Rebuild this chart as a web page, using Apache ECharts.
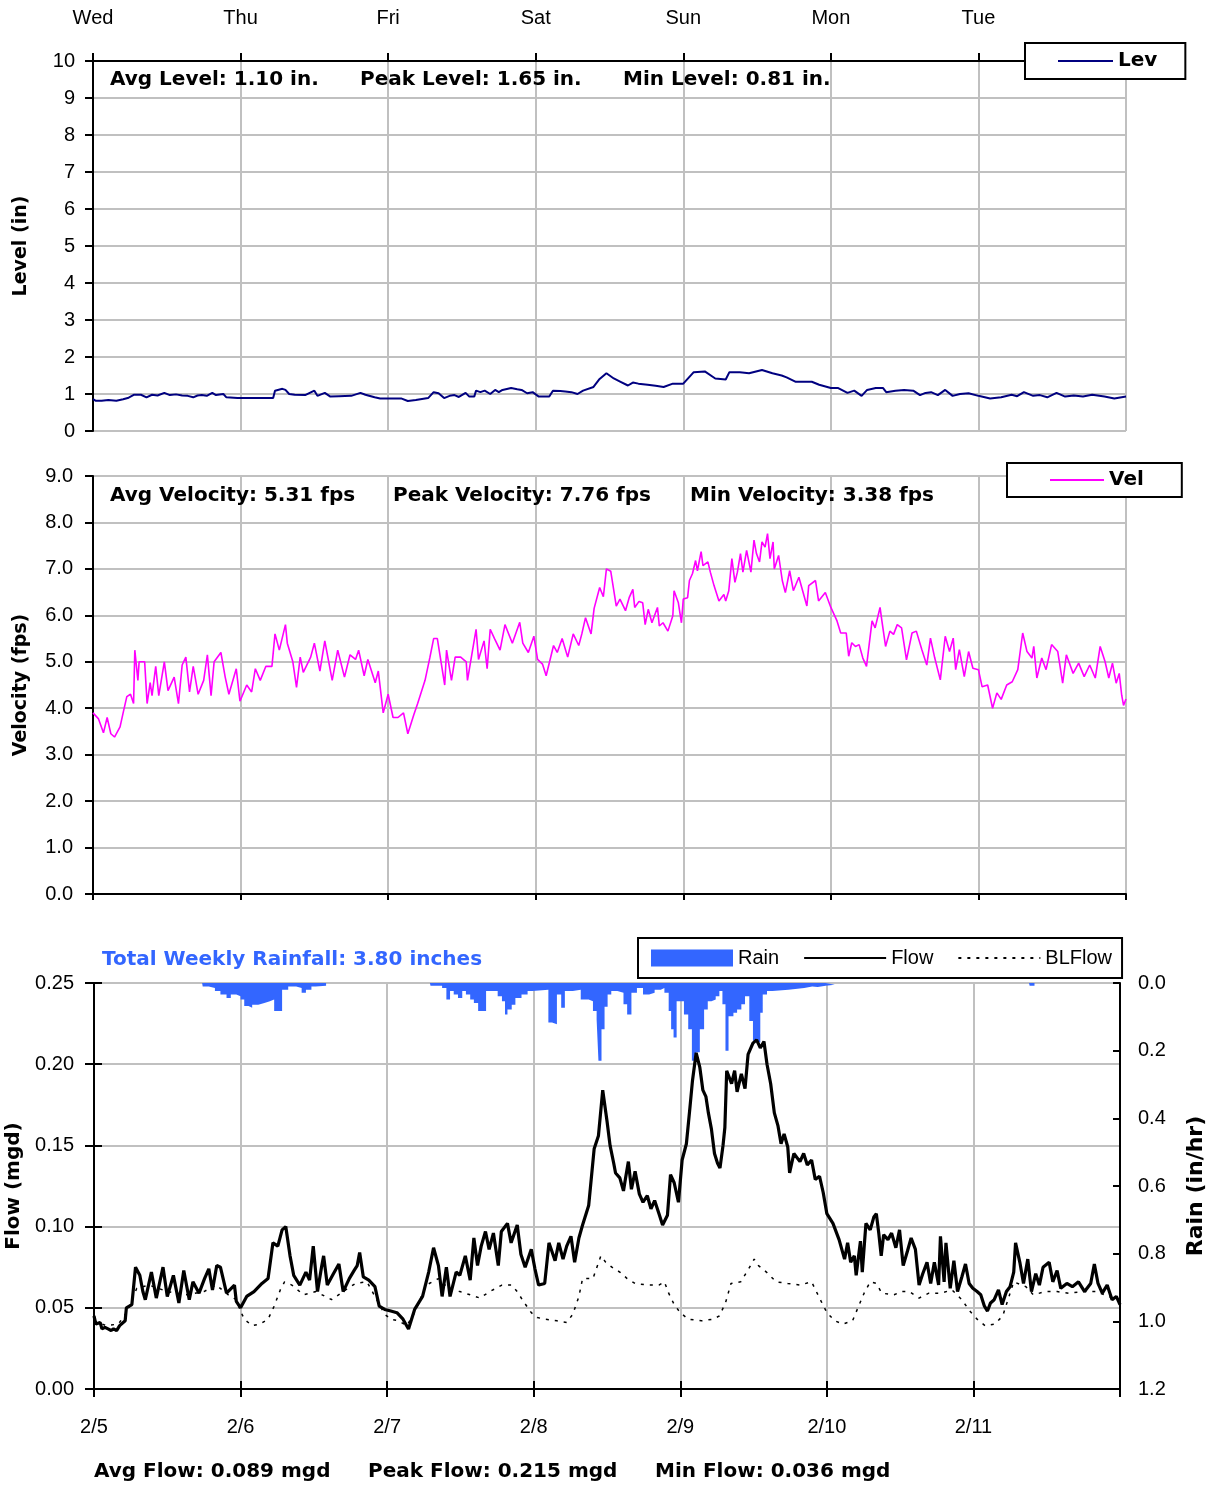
<!DOCTYPE html>
<html><head><meta charset="utf-8">
<script src="https://cdn.jsdelivr.net/npm/echarts@6/dist/echarts.min.js"></script>
<style>html,body{margin:0;padding:0;background:#fff}#c{width:1213px;height:1486px}</style>
</head><body><div id="c"></div>
<script>
// ---- DATA (x = hours since Wed 2/5 00:00) ----
const dayLabels = ['Wed','Thu','Fri','Sat','Sun','Mon','Tue'];
const dateLabels = ['2/5','2/6','2/7','2/8','2/9','2/10','2/11'];
const levelStats = ['Avg Level: 1.10 in.','Peak Level: 1.65 in.','Min Level: 0.81 in.'];
const velocityStats = ['Avg Velocity: 5.31 fps','Peak Velocity: 7.76 fps','Min Velocity: 3.38 fps'];
const flowStats = ['Avg Flow: 0.089 mgd','Peak Flow: 0.215 mgd','Min Flow: 0.036 mgd'];
const rainTotal = 'Total Weekly Rainfall: 3.80 inches';

const level = [[0,0.86],[0.4,0.82],[1.4,0.82],[2.5,0.84],[3.8,0.82],[4.9,0.86],[5.8,0.9],[6.7,0.98],[7.8,0.98],[8.7,0.91],[9.6,0.98],[10.5,0.96],[11.6,1.03],[12.5,0.97],[13.5,0.99],[14.5,0.96],[15.4,0.95],[16.3,0.91],[17.0,0.96],[17.7,0.97],[18.5,0.95],[19.4,1.03],[20.0,0.97],[21.2,1.0],[21.7,0.91],[23.5,0.89],[25.5,0.89],[27.5,0.89],[29.3,0.89],[29.6,1.09],[30.8,1.14],[31.3,1.11],[31.9,1.0],[32.8,0.98],[34.5,0.97],[36.0,1.09],[36.5,0.95],[37.7,1.03],[38.6,0.93],[40.0,0.94],[42.0,0.95],[43.5,1.03],[44.3,0.98],[45.8,0.91],[46.7,0.88],[50.1,0.88],[51.2,0.81],[52.5,0.84],[54.5,0.89],[55.4,1.05],[56.2,1.02],[57.1,0.89],[58.0,0.95],[58.8,0.97],[59.5,0.92],[60.6,1.03],[61.2,0.93],[62.0,0.93],[62.3,1.09],[63.0,1.05],[63.7,1.09],[64.6,1.0],[65.4,1.11],[66.0,1.05],[66.6,1.11],[68.0,1.16],[69.0,1.13],[69.7,1.11],[70.6,1.02],[71.5,1.05],[72.5,0.93],[74.2,0.93],[74.8,1.09],[76.0,1.08],[76.8,1.07],[77.8,1.05],[78.8,1.0],[79.7,1.09],[81.4,1.19],[82.3,1.39],[83.5,1.56],[84.7,1.42],[85.8,1.33],[87.0,1.23],[87.8,1.31],[88.7,1.28],[90.2,1.25],[91.5,1.22],[92.8,1.19],[94.3,1.28],[96.0,1.28],[97.7,1.59],[99.5,1.61],[101.2,1.42],[102.9,1.39],[103.5,1.59],[105.2,1.59],[106.7,1.56],[108.8,1.65],[110.5,1.56],[112.0,1.5],[112.8,1.45],[114.3,1.33],[116.9,1.33],[118.1,1.25],[120.0,1.16],[121.2,1.16],[122.7,1.03],[123.8,1.09],[125.0,0.95],[125.9,1.11],[127.3,1.16],[128.5,1.16],[129.0,1.05],[130.5,1.09],[131.9,1.11],[133.4,1.09],[134.5,0.97],[135.4,1.03],[136.3,1.05],[137.4,0.97],[138.6,1.11],[139.8,0.95],[141.0,1.0],[142.4,1.02],[144.0,0.95],[145.9,0.88],[147.7,0.91],[149.4,0.98],[150.3,0.94],[151.4,1.05],[152.9,0.95],[154.0,0.97],[155.2,0.91],[156.7,1.03],[158.1,0.93],[159.5,0.96],[161.0,0.93],[162.5,0.98],[164.5,0.93],[166.1,0.88],[168.0,0.93]];

const velocity = [[0,3.9],[0.9,3.77],[1.7,3.47],[2.3,3.8],[2.9,3.45],[3.5,3.38],[4.4,3.6],[4.9,3.9],[5.5,4.25],[6.1,4.3],[6.6,4.1],[6.8,5.25],[7.3,4.6],[7.5,5.0],[8.4,5.0],[8.8,4.1],[9.3,4.55],[9.6,4.27],[10.2,4.9],[10.7,4.27],[11.6,5.0],[12.2,4.38],[13.2,4.67],[13.9,4.1],[14.5,4.93],[15.1,5.1],[15.7,4.35],[16.3,4.9],[17.1,4.3],[18.0,4.6],[18.6,5.15],[19.2,4.27],[19.7,5.0],[20.8,5.2],[21.5,4.67],[22.1,4.3],[23.3,4.85],[23.9,4.15],[25.0,4.5],[25.8,4.35],[26.4,4.85],[27.2,4.6],[28.1,4.9],[29.1,4.9],[29.6,5.6],[30.3,5.25],[31.3,5.8],[31.6,5.4],[32.5,5.0],[33.1,4.45],[33.7,5.1],[34.2,4.77],[35.4,5.1],[36.0,5.4],[36.9,4.8],[37.7,5.45],[38.9,4.6],[39.8,5.25],[40.9,4.67],[41.8,5.15],[42.7,5.05],[43.2,5.25],[44.1,4.7],[44.7,5.05],[45.9,4.55],[46.4,4.8],[47.2,3.9],[48.0,4.3],[48.8,3.8],[49.6,3.8],[50.5,3.9],[51.2,3.45],[52.2,3.87],[52.8,4.1],[54.0,4.6],[54.8,5.1],[55.4,5.5],[56.0,5.5],[57.2,4.5],[57.5,5.25],[58.3,4.6],[58.9,5.1],[59.8,5.1],[60.7,5.0],[60.9,4.6],[62.3,5.7],[62.7,5.05],[63.6,5.45],[64.1,4.85],[64.6,5.7],[65.3,5.5],[66.2,5.25],[67.0,5.8],[68.2,5.4],[69.4,5.85],[69.9,5.4],[70.8,5.2],[71.7,5.55],[72.3,5.05],[73.1,4.95],[73.7,4.7],[74.9,5.35],[75.5,5.2],[76.3,5.5],[77.2,5.1],[78.1,5.6],[79.0,5.35],[79.5,5.6],[80.1,5.95],[81.0,5.6],[81.5,6.15],[82.4,6.6],[83.0,6.4],[83.5,7.0],[84.2,6.95],[85.1,6.2],[85.7,6.35],[86.6,6.1],[87.2,6.38],[87.8,6.56],[88.1,6.17],[88.8,6.3],[89.4,6.27],[89.8,5.8],[90.3,6.13],[90.9,5.84],[91.8,6.17],[92.1,5.77],[92.7,5.84],[93.5,5.66],[94.3,5.99],[94.5,6.53],[95.2,6.27],[95.7,5.84],[96.0,6.35],[96.7,6.38],[97.0,6.75],[97.5,6.9],[98.0,7.18],[98.3,6.96],[98.9,7.37],[99.2,7.07],[100.0,7.15],[100.4,6.93],[101.0,6.64],[101.8,6.31],[102.6,6.45],[102.9,6.31],[103.4,6.53],[103.9,7.22],[104.4,6.71],[104.8,6.93],[105.3,7.33],[105.7,6.93],[106.3,7.4],[107.0,6.93],[107.5,7.62],[107.9,7.33],[108.4,7.15],[108.8,7.58],[109.3,7.47],[109.7,7.76],[110.1,7.22],[110.6,7.58],[110.8,7.0],[111.5,7.29],[112.1,6.75],[112.6,6.49],[113.3,6.96],[113.9,6.53],[114.8,6.82],[116.1,6.2],[116.4,6.64],[117.5,6.75],[118.0,6.31],[119.1,6.49],[120.0,6.17],[121.0,5.88],[121.6,5.62],[122.5,5.62],[122.9,5.12],[123.4,5.41],[124.0,5.33],[124.6,5.37],[125.2,5.08],[125.8,4.9],[126.7,5.88],[127.2,5.73],[128.0,6.17],[128.3,5.88],[128.9,5.33],[129.6,5.66],[130.2,5.59],[130.8,5.8],[131.5,5.73],[132.3,5.04],[133.2,5.62],[133.9,5.66],[134.8,5.26],[135.6,4.93],[136.2,5.51],[136.9,5.08],[137.8,4.61],[138.6,5.55],[139.3,5.22],[139.9,5.51],[140.3,4.83],[140.9,5.26],[141.7,4.68],[142.4,5.22],[143.1,4.86],[144.0,4.83],[144.6,4.46],[145.5,4.5],[146.3,4.0],[147.0,4.33],[147.7,4.19],[148.6,4.5],[149.5,4.57],[150.4,4.83],[151.2,5.62],[151.9,5.22],[152.7,5.08],[153.0,5.33],[153.5,4.65],[154.3,5.08],[155.0,4.83],[155.9,5.37],[156.9,5.22],[157.7,4.54],[158.3,5.15],[159.4,4.75],[160.3,4.97],[161.2,4.68],[162.1,4.93],[163.0,4.65],[163.8,5.33],[164.6,5.0],[165.2,4.65],[165.8,4.97],[166.4,4.54],[166.9,4.75],[167.3,4.28],[167.6,4.06],[168.0,4.2]];

const flow = [[0,0.045],[0.3,0.040],[0.6,0.039],[1.0,0.041],[1.3,0.037],[1.8,0.038],[2.3,0.037],[2.8,0.036],[3.2,0.037],[3.7,0.036],[4.2,0.039],[5.1,0.042],[5.3,0.05],[6.2,0.052],[6.8,0.075],[7.5,0.07],[8.0,0.06],[8.4,0.055],[9.4,0.072],[10.2,0.056],[11.3,0.075],[12.0,0.057],[13.0,0.07],[13.9,0.053],[14.7,0.073],[15.6,0.055],[16.2,0.066],[17.2,0.059],[18.1,0.068],[18.8,0.074],[19.4,0.061],[20.1,0.076],[20.7,0.075],[21.7,0.059],[23.0,0.064],[23.3,0.054],[24.0,0.05],[25.0,0.057],[26.2,0.06],[27.5,0.065],[28.5,0.068],[29.3,0.09],[30.1,0.088],[30.8,0.098],[31.4,0.1],[32.1,0.082],[32.7,0.07],[33.7,0.064],[34.7,0.072],[35.3,0.067],[35.9,0.088],[36.6,0.06],[37.3,0.076],[37.6,0.082],[38.2,0.064],[39.2,0.071],[40.1,0.077],[40.8,0.06],[41.8,0.068],[42.6,0.073],[43.1,0.076],[43.5,0.084],[44.1,0.069],[45.0,0.067],[46.0,0.063],[46.7,0.051],[47.6,0.049],[48.6,0.048],[49.6,0.047],[50.6,0.043],[51.5,0.037],[52.5,0.049],[53.8,0.057],[54.8,0.072],[55.6,0.087],[56.4,0.076],[57.0,0.057],[57.7,0.075],[58.3,0.057],[59.3,0.072],[59.9,0.07],[60.8,0.082],[61.6,0.067],[62.2,0.093],[62.8,0.076],[63.4,0.088],[64.1,0.097],[64.7,0.086],[65.4,0.096],[66.2,0.076],[66.7,0.097],[67.7,0.102],[68.3,0.09],[69.3,0.101],[69.9,0.083],[70.6,0.075],[71.6,0.086],[72.2,0.074],[72.8,0.064],[73.8,0.065],[74.5,0.09],[75.5,0.079],[76.1,0.09],[76.8,0.08],[77.4,0.088],[78.1,0.094],[78.7,0.078],[79.4,0.093],[80.0,0.101],[81.0,0.113],[81.9,0.148],[82.6,0.156],[83.3,0.184],[84.0,0.165],[84.5,0.15],[85.1,0.139],[85.4,0.133],[86.1,0.13],[86.7,0.122],[87.0,0.129],[87.5,0.14],[88.0,0.123],[88.6,0.134],[89.3,0.12],[89.9,0.115],[90.6,0.119],[91.2,0.111],[91.8,0.116],[92.5,0.108],[93.1,0.101],[93.9,0.107],[94.4,0.132],[95.0,0.127],[95.7,0.115],[96.3,0.141],[97.0,0.151],[97.6,0.174],[98.0,0.19],[98.6,0.207],[99.2,0.198],[99.7,0.184],[100.2,0.18],[100.6,0.17],[101.1,0.16],[101.6,0.145],[102.1,0.139],[102.5,0.136],[103.0,0.15],[103.3,0.161],[103.6,0.196],[104.4,0.188],[104.9,0.196],[105.3,0.183],[106.0,0.194],[106.6,0.185],[107.1,0.206],[107.9,0.213],[108.5,0.215],[109.1,0.21],[109.7,0.214],[110.2,0.2],[110.8,0.188],[111.4,0.17],[112.0,0.162],[112.5,0.151],[113.0,0.157],[113.6,0.149],[113.9,0.133],[114.6,0.145],[115.6,0.14],[116.2,0.145],[116.8,0.138],[117.5,0.141],[118.1,0.129],[118.8,0.131],[119.4,0.121],[120.0,0.108],[121.0,0.102],[122.0,0.092],[122.9,0.08],[123.4,0.09],[123.9,0.078],[124.5,0.082],[124.8,0.07],[125.5,0.091],[125.8,0.072],[126.4,0.102],[127.1,0.098],[127.7,0.106],[128.1,0.108],[128.5,0.096],[128.9,0.082],[129.3,0.095],[130.0,0.092],[130.6,0.096],[131.3,0.087],[131.9,0.098],[132.5,0.076],[133.2,0.085],[133.8,0.093],[134.5,0.086],[135.1,0.064],[135.7,0.071],[136.4,0.078],[137.0,0.065],[137.6,0.078],[138.3,0.064],[138.6,0.094],[139.2,0.066],[139.5,0.09],[140.2,0.062],[140.8,0.079],[141.4,0.06],[142.1,0.069],[142.7,0.077],[143.3,0.065],[143.9,0.062],[144.6,0.06],[145.2,0.058],[145.8,0.051],[146.3,0.048],[146.8,0.053],[147.4,0.055],[148.1,0.061],[148.7,0.052],[149.4,0.06],[150.0,0.063],[150.6,0.072],[150.9,0.09],[151.6,0.078],[152.2,0.065],[152.9,0.08],[153.5,0.06],[154.2,0.071],[154.8,0.064],[155.4,0.075],[156.4,0.078],[157.0,0.066],[157.7,0.073],[158.3,0.062],[159.3,0.065],[160.2,0.063],[161.2,0.066],[162.2,0.06],[163.2,0.065],[163.8,0.077],[164.4,0.065],[165.1,0.059],[165.9,0.064],[166.7,0.055],[167.4,0.057],[168.0,0.052]];

const blFlow = [[0,0.042],[2,0.039],[4,0.04],[5.5,0.048],[7,0.062],[9,0.064],[12,0.06],[15,0.058],[18,0.06],[20,0.064],[22,0.058],[23.3,0.055],[24.0,0.048],[24.6,0.043],[25.9,0.039],[27.2,0.04],[28.5,0.043],[29.5,0.051],[30.5,0.061],[31.2,0.066],[32.4,0.064],[34.3,0.058],[36.3,0.06],[38.9,0.055],[40.8,0.06],[42.8,0.065],[44.7,0.066],[46.0,0.057],[47.6,0.046],[48.6,0.043],[49.9,0.042],[51.2,0.039],[52.5,0.047],[54.4,0.064],[56.4,0.068],[58.3,0.061],[59.9,0.06],[61.6,0.058],[63.2,0.056],[64.8,0.06],[66.8,0.064],[68.4,0.064],[69.3,0.06],[70.3,0.054],[71.6,0.047],[72.6,0.044],[73.8,0.043],[75.8,0.042],[77.4,0.041],[78.4,0.046],[79.4,0.057],[80.0,0.068],[81.7,0.068],[83.0,0.082],[83.8,0.078],[84.8,0.075],[86.1,0.072],[87.3,0.068],[88.6,0.065],[90.6,0.064],[92.5,0.064],[93.4,0.066],[94.1,0.059],[95.0,0.052],[96.0,0.047],[97.3,0.043],[99.5,0.042],[101.4,0.043],[102.4,0.045],[103.4,0.053],[104.3,0.065],[105.9,0.066],[107.2,0.074],[108.1,0.08],[108.8,0.076],[110.1,0.072],[111.7,0.066],[113.6,0.065],[115.6,0.064],[117.5,0.066],[118.8,0.056],[120.0,0.047],[121.3,0.042],[122.6,0.04],[124.2,0.042],[125.2,0.051],[126.1,0.059],[127.1,0.066],[128.1,0.065],[129.0,0.059],[131.0,0.058],[132.2,0.06],[133.5,0.06],[135.1,0.056],[136.7,0.059],[138.6,0.059],[140.5,0.061],[142.1,0.055],[143.4,0.048],[144.6,0.043],[145.9,0.039],[147.5,0.04],[148.8,0.045],[150.0,0.059],[150.6,0.066],[152.6,0.063],[153.8,0.058],[155.8,0.06],[157.7,0.06],[159.6,0.059],[162.2,0.06],[164.1,0.06],[166.1,0.057],[168.0,0.055]];

// rain in/hr; '-' = no rain recorded (gap)
const rain = [[17.7,0],[17.8,0.01],[18.8,0.015],[19.8,0.024],[20.7,0.034],[21.7,0.044],[22.4,0.034],[23.3,0.039],[24.0,0.049],[24.6,0.068],[25.3,0.073],[25.9,0.064],[26.9,0.059],[27.9,0.054],[28.8,0.049],[29.5,0.083],[30.1,0.083],[30.8,0.02],[31.8,0.01],[33.1,0.015],[34.0,0.029],[34.7,0.02],[35.6,0.01],[36.3,0.008],[38.0,0],[38.1,'-'],[55.0,0],[55.1,0.008],[57.0,0.015],[57.7,0.049],[58.3,0.024],[58.9,0.034],[59.6,0.044],[60.3,0.024],[60.9,0.034],[61.6,0.049],[62.2,0.059],[62.9,0.083],[63.5,0.083],[64.2,0.024],[65.2,0.024],[66.1,0.039],[66.8,0.054],[67.3,0.093],[67.7,0.078],[68.4,0.064],[69.0,0.044],[70.0,0.034],[71.0,0.024],[71.8,0.02],[74.4,0.117],[75.0,0.122],[75.8,0.034],[76.5,0.073],[77.1,0.024],[78.4,0.02],[79.7,0.049],[81.0,0.054],[81.7,0.083],[82.3,0.108],[82.6,0.23],[83.1,0.137],[83.6,0.07],[84.1,0.034],[84.7,0.024],[85.7,0.029],[86.7,0.063],[87.3,0.093],[88.0,0.029],[88.9,0.015],[89.9,0.034],[90.9,0.029],[91.8,0.02],[92.8,0.015],[93.4,0.029],[94.1,0.083],[94.5,0.137],[94.9,0.161],[95.4,0.054],[96.6,0.093],[97.3,0.137],[97.9,0.23],[98.6,0.205],[99.2,0.137],[99.9,0.078],[100.5,0.054],[101.1,0.049],[101.8,0.039],[102.4,0.024],[102.9,0.063],[103.4,0.2],[103.9,0.098],[104.7,0.088],[105.3,0.078],[106.0,0.063],[106.6,0.039],[107.3,0.112],[107.9,0.171],[108.5,0.176],[109.1,0.088],[109.5,0.034],[110.2,0.024],[111.1,0.02],[113.7,0.015],[116.3,0.01],[117.6,0.012],[118.5,0.008],[119.8,0.005],[121.3,0],[121.4,'-'],[153.1,0],[153.2,0.008],[154.0,0]];

// ---- CHART ----
const GRID = '#c0c0c0';
const BOLD = '"DejaVu Sans", Verdana, sans-serif';
const REG = '"Liberation Sans", Arial, sans-serif';
const tickLbl = {color:'#000', fontFamily: REG, fontSize: 20};
const axisLine = {show:true, onZero:false, lineStyle:{color:'#000', width:2}};
const noLine = {show:false, onZero:false};
const split = {show:true, lineStyle:{color:GRID, width:2}};
const nameStyle = {color:'#000', fontFamily: BOLD, fontWeight:'bold', fontSize:19};

function statText(txt, x, y, color) {
  return {type:'text', x:x, y:y, z:100, style:{text:txt, fill:color||'#000', font:'bold 20px ' + BOLD, verticalAlign:'middle'}};
}

const chart = echarts.init(document.getElementById('c'), null, {renderer:'canvas'});
chart.setOption({
  animation:false,
  backgroundColor:'#fff',
  grid:[
    {left:93, top:61, width:1033, height:370, outerBoundsMode:'none', containLabel:false},
    {left:93, top:476, width:1033, height:418, outerBoundsMode:'none', containLabel:false},
    {left:94, top:983, width:1026, height:406, outerBoundsMode:'none', containLabel:false}
  ],
  xAxis:[
    {gridIndex:0, type:'value', min:0, max:168, interval:24, position:'top',
     axisLine:axisLine, axisTick:{show:true, length:8, lineStyle:{color:'#000', width:2}},
     axisLabel:Object.assign({margin:33, formatter:v=>dayLabels[v/24]||''}, tickLbl), splitLine:split},
    {gridIndex:1, type:'value', min:0, max:168, interval:24, position:'bottom',
     axisLine:axisLine, axisTick:{show:true, length:6, lineStyle:{color:'#000', width:2}},
     axisLabel:{show:false}, splitLine:split},
    {gridIndex:2, type:'value', min:0, max:168, interval:24, position:'bottom',
     axisLine:axisLine, axisTick:{show:true, length:8, lineStyle:{color:'#000', width:2}},
     axisLabel:Object.assign({margin:28, formatter:v=>dateLabels[v/24]||''}, tickLbl), splitLine:split},
    {gridIndex:2, type:'value', min:0, max:168, interval:24, position:'bottom',
     axisLine:noLine, axisTick:{show:true, inside:true, length:8, lineStyle:{color:'#000', width:2}},
     axisLabel:{show:false}, splitLine:{show:false}}
  ],
  yAxis:[
    {gridIndex:0, type:'value', min:0, max:10, interval:1, axisLine:axisLine,
     axisTick:{show:true, length:8, lineStyle:{color:'#000', width:2}},
     axisLabel:Object.assign({margin:18}, tickLbl), splitLine:split,
     name:'Level (in)', nameLocation:'middle', nameGap:62, nameTextStyle:nameStyle},
    {gridIndex:1, type:'value', min:0, max:9, interval:1, axisLine:axisLine,
     axisTick:{show:true, length:8, lineStyle:{color:'#000', width:2}},
     axisLabel:Object.assign({margin:20, formatter:v=>v.toFixed(1)}, tickLbl), splitLine:split,
     name:'Velocity (fps)', nameLocation:'middle', nameGap:62, nameTextStyle:nameStyle},
    {gridIndex:2, type:'value', min:0, max:0.25, interval:0.05, position:'left', axisLine:axisLine,
     axisTick:{show:true, length:9, lineStyle:{color:'#000', width:2}},
     axisLabel:Object.assign({margin:20, formatter:v=>v.toFixed(2)}, tickLbl), splitLine:split,
     name:'Flow (mgd)', nameLocation:'middle', nameGap:63, nameTextStyle:Object.assign({}, nameStyle, {fontSize:20})},
    {gridIndex:2, type:'value', min:0, max:0.25, interval:0.05, position:'left',
     axisLine:noLine, axisTick:{show:true, inside:true, length:8, lineStyle:{color:'#000', width:2}},
     axisLabel:{show:false}, splitLine:{show:false}},
    {gridIndex:2, type:'value', min:0, max:1.2, interval:0.2, position:'right', inverse:true, axisLine:axisLine,
     axisTick:{show:true, inside:true, length:7, lineStyle:{color:'#000', width:2}},
     axisLabel:Object.assign({margin:18, formatter:v=>v.toFixed(1)}, tickLbl), splitLine:{show:false},
     name:'Rain (in/hr)', nameLocation:'middle', nameGap:65, nameTextStyle:Object.assign({}, nameStyle, {fontSize:22})}
  ],
  legend:[
    {data:['Lev'], left:1025, top:43, padding:[8,28,8,32], itemWidth:55, itemHeight:14, itemGap:6,
     itemStyle:{opacity:0},
     borderColor:'#000', borderWidth:2, backgroundColor:'#fff', z:50,
     textStyle:{color:'#000', fontFamily:BOLD, fontWeight:'bold', fontSize:20}},
    {data:['Vel'], left:1007, top:463, padding:[7,38,7,42], itemWidth:54, itemHeight:14,
     itemStyle:{opacity:0},
     borderColor:'#000', borderWidth:2, backgroundColor:'#fff', z:50,
     textStyle:{color:'#000', fontFamily:BOLD, fontWeight:'bold', fontSize:20}},
    {data:[{name:'Rain', icon:'rect', itemStyle:{opacity:1, color:'#3366ff'}}, 'Flow', 'BLFlow'], left:638, top:938, padding:[10,10,10,13],
     itemWidth:82, itemHeight:17, itemGap:24, itemStyle:{opacity:0},
     borderColor:'#000', borderWidth:2, backgroundColor:'#fff', z:50,
     textStyle:{color:'#000', fontFamily:REG, fontSize:20}}
  ],
  series:[
    {name:'Lev', type:'line', xAxisIndex:0, yAxisIndex:0, data:level, symbol:'none', color:'#000080',
     lineStyle:{color:'#000080', width:2}},
    {name:'Vel', type:'line', xAxisIndex:1, yAxisIndex:1, data:velocity, symbol:'none', color:'#ff00ff',
     lineStyle:{color:'#ff00ff', width:1.6}},
    {name:'Rain', type:'line', xAxisIndex:2, yAxisIndex:4, data:rain, symbol:'none', step:'end', color:'#3366ff',
     connectNulls:false, lineStyle:{width:0, opacity:0}, areaStyle:{color:'#3366ff', opacity:1}, z:1},
    {name:'BLFlow', type:'line', xAxisIndex:2, yAxisIndex:2, data:blFlow, symbol:'none', color:'#000',
     lineStyle:{color:'#000', width:1.5, type:[3,6]}, z:2},
    {name:'Flow', type:'line', xAxisIndex:2, yAxisIndex:2, data:flow, symbol:'none', color:'#000',
     lineStyle:{color:'#000', width:3.2}, z:3}
  ],
  graphic:[
    statText(levelStats[0], 110, 80), statText(levelStats[1], 360, 80), statText(levelStats[2], 623, 80),
    statText(velocityStats[0], 110, 496), statText(velocityStats[1], 393, 496), statText(velocityStats[2], 690, 496),
    statText(rainTotal, 102, 960, '#3366ff'),
    statText(flowStats[0], 94, 1472), statText(flowStats[1], 368, 1472), statText(flowStats[2], 655, 1472)
  ]
});
</script>
</body></html>
